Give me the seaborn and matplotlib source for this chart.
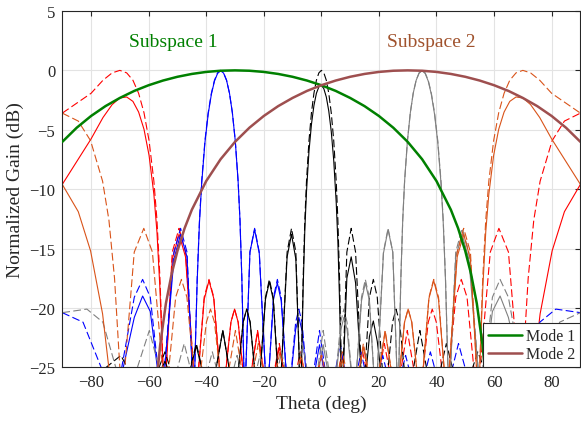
import matplotlib
matplotlib.use("Agg")
import matplotlib.pyplot as plt
from matplotlib.lines import Line2D
import seaborn as sns

# ---------------- data ----------------
# Element-pattern envelopes (dB)
mode1_theta = [-90, -85, -80, -75, -70, -65, -60, -55, -50, -45, -40, -35, -30, -25, -20, -15, -10, -5,
               0, 5, 10, 15, 20, 25, 30, 35, 40, 45, 47.5, 50, 52, 54, 56, 57, 58]
mode1_gain = [-6.02, -4.83, -3.84, -3.01, -2.32, -1.73, -1.25, -0.855, -0.54, -0.30, -0.13, -0.03, 0, -0.03,
              -0.13, -0.30, -0.54, -0.855, -1.25, -1.73, -2.32, -3.01, -3.84, -4.83, -6.02, -7.48, -9.32,
              -11.74, -13.29, -15.21, -17.13, -19.62, -23.13, -25.62, -29.1]
mode2_theta = [-58, -57, -56, -54, -52, -50, -47.5, -45, -40, -35, -30, -25, -20, -15, -10, -5, 0, 5, 10,
               15, 20, 25, 30, 35, 40, 45, 50, 55, 60, 65, 70, 75, 80, 85, 90]
mode2_gain = [-29.1, -25.62, -23.13, -19.62, -17.13, -15.21, -13.29, -11.74, -9.32, -7.48, -6.02, -4.83,
              -3.84, -3.01, -2.32, -1.73, -1.25, -0.855, -0.54, -0.30, -0.13, -0.03, 0, -0.03, -0.13,
              -0.30, -0.54, -0.855, -1.25, -1.73, -2.32, -3.01, -3.84, -4.83, -6.02]

# Beam steered to -70 deg (red)
red_theta = [-90, -80.00, -75.86, -72.68, -70.00, -67.63, -65.46, -63.48, -61.61, -59.85, -58.18, -57.11,
             -56.07, -54.56, -51.79, -49.44, -47.19, -43.60, -40.71, -39.03, -37.38, -34.38, -31.41,
             -30.15, -28.90, -26.08, -22.16, -18.34, -14.61, -10.94, -7.31, -3.71, -0.13, 3.46, 7.05,
             10.68, 14.35, 18.08, 21.89, 25.80, 29.85, 34.08, 37.14, 38.52, 39.93, 43.26, 46.70, 48.61,
             50.61, 54.13, 58.69, 61.68, 65.00, 69.27, 71.85, 73.80, 76.00, 80.17, 84.44, 90]
red_array = [-3.6, -1.93, -0.83, -0.21, 0, -0.21, -0.83, -1.93, -3.57, -5.92, -9.33, -12.6, -17.5, -28,
             -15.3, -13.3, -15.3, -28, -19.1, -17.6, -19.1, -28, -21.2, -20.1, -21.2, -28, -21.9, -28,
             -23.0, -28, -23.7, -28, -24.0, -28, -24.0, -28, -23.7, -28, -23.0, -28, -21.9, -28, -21.2,
             -20.1, -21.2, -28, -19.1, -17.6, -19.1, -28, -15.3, -13.3, -15.3, -28, -17.5, -12.6, -9.33,
             -5.92, -4.27, -3.6]
red_weighted = [-9.6, -5.77, -3.97, -2.88, -2.32, -2.24, -2.61, -3.51, -4.96, -7.16, -10.43, -13.6, -18.4,
                -28, -15.9, -13.8, -15.7, -28, -19.3, -17.7, -19.2, -28, -21.2, -20.1, -21.2, -28, -22.0,
                -28, -23.3, -28, -24.4, -28, -25.2, -28, -26.0, -28, -26.6, -28, -27.2, -28, -27.9, -28,
                -30, -30, -30, -28, -30, -30, -30, -28, -30, -30, -30, -28, -30, -25.1, -20.5, -15.2,
                -11.9, -9.6]

# Beam steered to -35 deg (blue)
blue_theta = [-90, -82.80, -71.55, -64.98, -62.09, -59.43, -55.44, -51.23, -48.90, -46.68, -44.31, -43.13,
              -42.34, -41.57, -40.44, -39.32, -38.21, -37.13, -36.06, -35.00, -33.96, -32.93, -31.91,
              -30.91, -29.91, -28.92, -28.27, -27.62, -26.65, -24.81, -23.18, -21.57, -18.88, -16.63,
              -15.28, -13.95, -11.45, -8.92, -7.82, -6.73, -4.22, -0.64, 2.95, 6.54, 10.16, 13.82, 17.54,
              21.34, 25.24, 29.27, 33.47, 37.87, 42.56, 47.64, 53.27, 59.76, 67.88, 75.91, 81.46, 90]
blue_array = [-20.4, -21.2, -28, -19.1, -17.6, -19.1, -28, -15.3, -13.3, -15.3, -28, -17.5, -12.6, -9.33,
              -5.92, -3.57, -1.93, -0.83, -0.21, 0, -0.21, -0.83, -1.93, -3.57, -5.92, -9.33, -12.6,
              -17.5, -28, -15.3, -13.3, -15.3, -28, -19.1, -17.6, -19.1, -28, -21.2, -20.1, -21.2, -28,
              -21.9, -28, -23.0, -28, -23.7, -28, -24.0, -28, -24.0, -28, -23.7, -28, -23.0, -28, -21.9,
              -28, -21.2, -20.1, -20.4]
blue_weighted = [-26.4, -25.6, -28, -20.8, -19.0, -20.3, -28, -15.9, -13.8, -15.7, -28, -17.7, -12.8, -9.51,
                 -6.07, -3.69, -2.02, -0.90, -0.26, -0.03, -0.23, -0.84, -1.93, -3.57, -5.92, -9.33,
                 -12.6, -17.5, -28, -15.3, -13.4, -15.4, -28, -19.3, -17.9, -19.4, -28, -21.8, -20.8,
                 -21.9, -28, -23.1, -28, -24.9, -28, -26.5, -28, -28.1, -28, -30, -28, -30, -28, -30, -28,
                 -30, -28, -30, -28.8, -26.4]

# Beam steered to 0 deg (black)
black_theta = [-90, -69.64, -61.04, -54.34, -48.59, -43.43, -38.68, -34.23, -30.00, -27.16, -25.94, -24.74,
               -22.02, -19.42, -18.06, -16.71, -14.48, -11.89, -10.37, -8.86, -7.18, -6.32, -5.74, -5.16,
               -4.30, -3.44, -2.58, -1.72, -0.86, 0, 0.86, 1.72, 2.58, 3.44, 4.30, 5.16, 5.74, 6.32, 7.18,
               8.86, 10.37, 11.89, 14.48, 16.71, 18.06, 19.42, 22.02, 24.74, 25.94, 27.16, 30.00, 34.23,
               38.68, 43.43, 48.59, 54.34, 61.04, 69.64, 90]
black_array = [-28, -24.0, -28, -23.7, -28, -23.0, -28, -21.9, -28, -21.2, -20.1, -21.2, -28, -19.1, -17.6,
               -19.1, -28, -15.3, -13.3, -15.3, -28, -17.5, -12.6, -9.33, -5.92, -3.57, -1.93, -0.83,
               -0.21, 0, -0.21, -0.83, -1.93, -3.57, -5.92, -9.33, -12.6, -17.5, -28, -15.3, -13.3, -15.3,
               -28, -19.1, -17.6, -19.1, -28, -21.2, -20.1, -21.2, -28, -21.9, -28, -23.0, -28, -23.7,
               -28, -24.0, -28]
black_weighted = [-28, -26.3, -28, -24.5, -28, -23.2, -28, -21.9, -28, -21.2, -20.1, -21.2, -28, -19.3,
                  -17.8, -19.3, -28, -15.7, -13.8, -15.9, -28, -18.3, -13.4, -10.2, -6.82, -4.54, -2.96,
                  -1.93, -1.38, -1.25, -1.54, -2.24, -3.42, -5.14, -7.58, -11.1, -14.4, -19.4, -28, -17.5,
                  -15.7, -17.9, -28, -22.4, -21.1, -22.8, -28, -26.0, -25.1, -26.5, -28, -29.1, -28, -30,
                  -28, -30, -28, -30, -28]

# Beam steered to +35 deg (gray)
gray_theta = [-90, -81.46, -75.91, -67.88, -59.76, -53.27, -47.64, -42.56, -37.87, -33.47, -29.27, -25.24,
              -21.34, -17.54, -13.82, -10.16, -6.54, -2.95, 0.64, 4.22, 6.73, 7.82, 8.92, 11.45, 13.95,
              15.28, 16.63, 18.88, 21.57, 23.18, 24.81, 26.65, 27.62, 28.27, 28.92, 29.91, 30.91, 31.91,
              32.93, 33.96, 35.00, 36.06, 37.13, 38.21, 39.32, 40.44, 41.57, 42.34, 43.13, 44.31, 46.68,
              48.90, 51.23, 55.44, 59.43, 62.09, 64.98, 71.55, 82.80, 90]
gray_array = [-20.4, -20.1, -21.2, -28, -21.9, -28, -23.0, -28, -23.7, -28, -24.0, -28, -24.0, -28, -23.7,
              -28, -23.0, -28, -21.9, -28, -21.2, -20.1, -21.2, -28, -19.1, -17.6, -19.1, -28, -15.3,
              -13.3, -15.3, -28, -17.5, -12.6, -9.33, -5.92, -3.57, -1.93, -0.83, -0.21, 0, -0.21, -0.83,
              -1.93, -3.57, -5.92, -9.33, -12.6, -17.5, -28, -15.3, -13.3, -15.3, -28, -19.1, -17.6,
              -19.1, -28, -21.2, -20.4]
gray_weighted = [-26.4, -28.8, -30, -28, -30, -28, -30, -28, -30, -28, -30, -28, -28.1, -28, -26.5, -28,
                 -24.9, -28, -23.1, -28, -21.9, -20.8, -21.8, -28, -19.4, -17.9, -19.3, -28, -15.4, -13.4,
                 -15.3, -28, -17.5, -12.6, -9.33, -5.92, -3.57, -1.93, -0.84, -0.23, -0.03, -0.26, -0.90,
                 -2.02, -3.69, -6.07, -9.51, -12.8, -17.7, -28, -15.7, -13.8, -15.9, -28, -20.3, -19.0,
                 -20.8, -28, -25.6, -26.4]

# Beam steered to +70 deg (orange)
orange_theta = [-90, -84.44, -80.17, -76.00, -73.80, -71.85, -69.27, -65.00, -61.68, -58.69, -54.13,
                -50.61, -48.61, -46.70, -43.26, -39.93, -38.52, -37.14, -34.08, -29.85, -25.80, -21.89,
                -18.08, -14.35, -10.68, -7.05, -3.46, 0.13, 3.71, 7.31, 10.94, 14.61, 18.34, 22.16, 26.08,
                28.90, 30.15, 31.41, 34.38, 37.38, 39.03, 40.71, 43.60, 47.19, 49.44, 51.79, 54.56, 56.07,
                57.11, 58.18, 59.85, 61.61, 63.48, 65.46, 67.63, 70.00, 72.68, 75.86, 80.00, 90]
orange_array = [-3.6, -4.27, -5.92, -9.33, -12.6, -17.5, -28, -15.3, -13.3, -15.3, -28, -19.1, -17.6,
                -19.1, -28, -21.2, -20.1, -21.2, -28, -21.9, -28, -23.0, -28, -23.7, -28, -24.0, -28,
                -24.0, -28, -23.7, -28, -23.0, -28, -21.9, -28, -21.2, -20.1, -21.2, -28, -19.1, -17.6,
                -19.1, -28, -15.3, -13.3, -15.3, -28, -17.5, -12.6, -9.33, -5.92, -3.57, -1.93, -0.83,
                -0.21, 0, -0.21, -0.83, -1.93, -3.6]
orange_weighted = [-9.6, -11.9, -15.2, -20.5, -25.1, -30, -28, -30, -30, -30, -28, -30, -30, -30, -28, -30,
                   -30, -30, -28, -27.9, -28, -27.2, -28, -26.6, -28, -26.0, -28, -25.2, -28, -24.4, -28,
                   -23.3, -28, -22.0, -28, -21.2, -20.1, -21.2, -28, -19.2, -17.7, -19.3, -28, -15.7,
                   -13.8, -15.9, -28, -18.4, -13.6, -10.43, -7.16, -4.96, -3.51, -2.61, -2.24, -2.32,
                   -2.88, -3.97, -5.77, -9.6]

x_ticks = [-80, -60, -40, -20, 0, 20, 40, 60, 80]
y_ticks = [-25, -20, -15, -10, -5, 0, 5]
legend_labels = ["Mode 1", "Mode 2"]
region_labels = ["Subspace 1", "Subspace 2"]

# ---------------- styling ----------------
sns.set_style("white")
plt.rcParams["font.family"] = ["Liberation Serif", "DejaVu Serif"]
plt.rcParams["mathtext.fontset"] = "stix"

GREEN = "#008000"
BROWN = "#9E4F4F"
SIENNA = "#A0522D"
beams = [
    (red_theta, red_array, red_weighted, "#FF0000"),
    (blue_theta, blue_array, blue_weighted, "#0000FF"),
    (black_theta, black_array, black_weighted, "#000000"),
    (gray_theta, gray_array, gray_weighted, "#808080"),
    (orange_theta, orange_array, orange_weighted, "#D95319"),
]

fig = plt.figure(figsize=(5.81, 4.27), dpi=100)
ax = fig.add_axes([0.1072, 0.1375, 0.8918, 0.8344])
ax.set_facecolor("white")

for th, arr, wtd, col in beams:
    sns.lineplot(x=th, y=arr, ax=ax, color=col, linewidth=0.8, linestyle=(0, (7, 3)),
                 estimator=None, sort=False, errorbar=None, zorder=2)
    sns.lineplot(x=th, y=wtd, ax=ax, color=col, linewidth=0.8,
                 estimator=None, sort=False, errorbar=None, zorder=2)

sns.lineplot(x=mode1_theta, y=mode1_gain, ax=ax, color=GREEN, linewidth=1.8,
             estimator=None, sort=False, errorbar=None, zorder=3)
sns.lineplot(x=mode2_theta, y=mode2_gain, ax=ax, color=BROWN, linewidth=1.8,
             estimator=None, sort=False, errorbar=None, zorder=3)

ax.set_xlim(-90, 90)
ax.set_ylim(-25, 5)
ax.set_xticks(x_ticks)
ax.set_yticks(y_ticks)
ax.grid(True, color="#E3E3E3", linewidth=0.8, zorder=0)
ax.set_axisbelow(True)
ax.tick_params(direction="in", length=3.5, width=0.8, colors="#262626", labelsize=12,
               top=True, right=True, labelcolor="#262626", pad=5)
for s in ax.spines.values():
    s.set_visible(True)
    s.set_color("#262626")
    s.set_linewidth(0.8)

ax.set_xlabel("Theta (deg)", fontsize=14, color="#262626", labelpad=3)
ax.set_ylabel("Normalized Gain (dB)", fontsize=14, color="#262626", labelpad=4)

ax.text(-51.6, 2.45, region_labels[0], color=GREEN, fontsize=14, ha="center", va="center")
ax.text(38.1, 2.45, region_labels[1], color=SIENNA, fontsize=14, ha="center", va="center")

handles = [Line2D([0], [0], color=GREEN, linewidth=1.8),
           Line2D([0], [0], color=BROWN, linewidth=1.8)]
leg = ax.legend(handles, legend_labels, loc="lower right", bbox_to_anchor=(1.0, 0.0),
                borderaxespad=0.0, fontsize=11.5, frameon=True, fancybox=False,
                edgecolor="#262626", framealpha=1.0, handlelength=2.1, handletextpad=0.3,
                labelspacing=0.15, borderpad=0.3)
leg.get_frame().set_linewidth(0.8)
leg.set_zorder(10)

fig.savefig("out.png", dpi=100)
